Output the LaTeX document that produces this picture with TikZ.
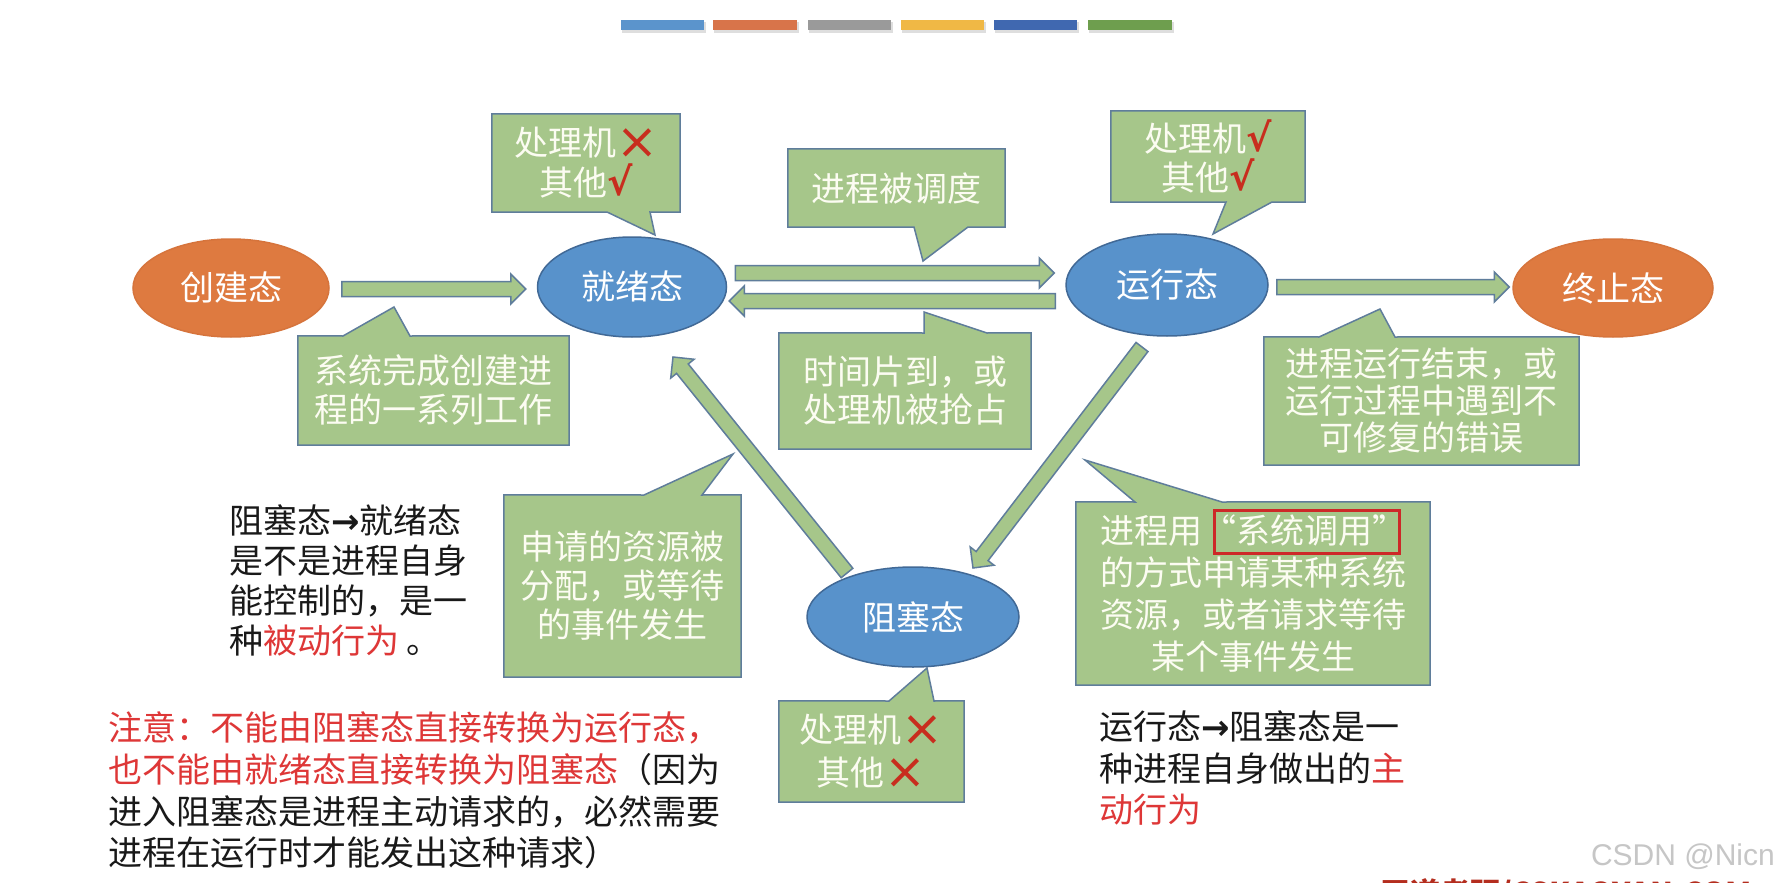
\documentclass[tikz,border=0pt]{standalone}
\usepackage{fontspec}
\newfontfamily\cjk{Noto Sans CJK SC}
\newfontfamily\djv{DejaVu Sans}
\newfontfamily\lbs{Liberation Sans}
\usetikzlibrary{calc,shapes.geometric}
\pgfdeclarelayer{paper}
\pgfdeclarelayer{under}
\pgfsetlayers{paper,under,main}
\definecolor{bluefill}{RGB}{88,146,203}
\definecolor{blueline}{RGB}{65,105,150}
\definecolor{orangefill}{RGB}{222,122,64}
\definecolor{orangeline}{RGB}{214,116,60}
\definecolor{greenfill}{RGB}{166,198,138}
\definecolor{greenline}{RGB}{95,125,155}
\definecolor{calltxt}{RGB}{252,252,242}
\definecolor{markred}{RGB}{200,45,30}
\definecolor{notered}{RGB}{222,55,55}
\definecolor{notetxt}{RGB}{25,25,25}
\definecolor{boxred}{RGB}{205,40,40}
\definecolor{barA}{RGB}{91,148,204}
\definecolor{barB}{RGB}{216,116,74}
\definecolor{barC}{RGB}{154,154,154}
\definecolor{barD}{RGB}{240,184,69}
\definecolor{barE}{RGB}{64,104,176}
\definecolor{barF}{RGB}{110,158,78}
\definecolor{wmgray}{RGB}{198,198,198}
\definecolor{wmred}{RGB}{180,45,30}
\newcommand{\xmk}{{\djv\fontsize{50}{40}\selectfont\color{markred}\raisebox{-3pt}{×}}}
\newcommand{\cmk}{{\djv\bfseries\fontsize{38}{40}\selectfont\color{markred}√}}
\newcommand{\rarr}{{\djv\bfseries →}}
\newcommand{\blockarrow}[2]{%
  \coordinate (ba-h) at ($(#2)!15pt!(#1)$);
  \filldraw[blockarrowstyle]
    ($(#1)!7.5pt!90:(#2)$) -- ($(ba-h)!7.5pt!90:(#2)$) -- ($(ba-h)!15pt!90:(#2)$) -- (#2)
    -- ($(ba-h)!15pt!-90:(#2)$) -- ($(ba-h)!7.5pt!-90:(#2)$) -- ($(#1)!7.5pt!-90:(#2)$) -- cycle;
}
\newcommand{\colorbar}[3]{%
  \fill[black!13] (#1+1,22) rectangle (#2+2,33);
  \fill[#3] (#1,20) rectangle (#2,30);
}
\begin{document}
\begin{tikzpicture}[x=1pt,y=-1pt,
  state/.style={ellipse, inner sep=0pt, line width=1.5pt, text=white,
    font=\cjk\fontsize{34}{40}\selectfont},
  bluestate/.style={state, fill=bluefill, draw=blueline},
  orangestate/.style={state, fill=orangefill, draw=orangeline},
  ctext/.style={rectangle, inner sep=0pt, align=center, text=calltxt,
    font=\cjk\fontsize{34}{#1}\selectfont},
  cshape/.style={fill=greenfill, draw=greenline, line width=1.5pt, line join=miter},
  blockarrowstyle/.style={fill=greenfill, draw=greenline, line width=1.5pt, line join=miter},
  note/.style={inner sep=0pt, align=left, anchor=west, text=notetxt,
    font=\cjk\fontsize{34}{#1}\selectfont},
]
\useasboundingbox (0,0) rectangle (1781,883);
\begin{pgfonlayer}{paper}
  \fill[white] (0,0) rectangle (1781,883);
\end{pgfonlayer}

% decorative colour bars
\colorbar{621}{704}{barA}
\colorbar{713}{797}{barB}
\colorbar{808}{891}{barC}
\colorbar{901}{984}{barD}
\colorbar{994}{1077}{barE}
\colorbar{1088}{1172}{barF}

% states
\node[orangestate, minimum width=196, minimum height=98] (create) at (231,288) {创建态};
\node[bluestate, minimum width=189, minimum height=100] (ready) at (632,287) {就绪态};
\node[bluestate, minimum width=202, minimum height=102] (run) at (1167,285) {运行态};
\node[orangestate, minimum width=200, minimum height=98] (exit) at (1613,288) {终止态};
\node[bluestate, minimum width=212, minimum height=100] (block) at (913,617) {阻塞态};

% block arrows
\coordinate (a1s) at ($(create.east)+(12,1)$);
\coordinate (a1e) at ($(ready.west)+(-11,2)$);
\coordinate (a2s) at ($(ready.east)+(8,-14)$);
\coordinate (a2e) at ($(run.west)+(-11,-12)$);
\coordinate (a3s) at ($(run.west)+(-10,16)$);
\coordinate (a3e) at ($(ready.east)+(2,14)$);
\coordinate (a4s) at ($(run.east)+(8,2)$);
\coordinate (a4e) at ($(exit.west)+(-3,-1)$);
\coordinate (a5s) at ($(block.center)+(-66,-44)$);
\coordinate (a5e) at ($(ready.center)+(41,70)$);
\coordinate (a6s) at ($(run.center)+(-25,62)$);
\coordinate (a6e) at ($(block.center)+(60,-49)$);
\blockarrow{a1s}{a1e}
\blockarrow{a2s}{a2e}
\blockarrow{a3s}{a3e}
\blockarrow{a4s}{a4e}
\blockarrow{a5s}{a5e}
\blockarrow{a6s}{a6e}

% callouts
\node[ctext=40, minimum width=188, minimum height=98] (cA) at (586,163) {处理机\xmk\\其他\cmk};
\node[ctext=40, minimum width=217, minimum height=78] (cB) at (896.5,188) {进程被调度};
\node[ctext=38, minimum width=252, minimum height=116] (cC) at (905,391) {时间片到，或\\处理机被抢占};
\node[ctext=39, minimum width=194, minimum height=91] (cD) at (1208,156.5) {处理机\cmk\\其他\cmk};
\node[ctext=39, minimum width=271, minimum height=109] (cE) at (433.5,390.5) {系统完成创建进\\程的一系列工作};
\node[ctext=37, minimum width=315, minimum height=128] (cF) at (1421.5,401) {进程运行结束，或\\运行过程中遇到不\\可修复的错误};
\node[ctext=39, minimum width=237, minimum height=182] (cG) at (622.5,586) {申请的资源被\\分配，或等待\\的事件发生};
\node[ctext=42, minimum width=354, minimum height=183] (cH) at (1253,593.5) {进程用“系统调用”\\的方式申请某种系统\\资源，或者请求等待\\某个事件发生};
\node[ctext=43, minimum width=185, minimum height=101] (cI) at (871.5,751.5) {处理机\xmk\\其他\xmk};

\begin{pgfonlayer}{under}
  \filldraw[cshape] (cA.north west) -- (cA.north east) -- (cA.south east) -- (650,212) -- (655,235) -- (607,212) -- (cA.south west) -- cycle;
  \filldraw[cshape] (cB.north west) -- (cB.north east) -- (cB.south east) -- (968,227) -- (923,261) -- (914,227) -- (cB.south west) -- cycle;
  \filldraw[cshape] (cC.north west) -- (924,333) -- (924,312) -- (987,333) -- (cC.north east) -- (cC.south east) -- (cC.south west) -- cycle;
  \filldraw[cshape] (cD.north west) -- (cD.north east) -- (cD.south east) -- (1272,202) -- (1213,234) -- (1226,202) -- (cD.south west) -- cycle;
  \filldraw[cshape] (cE.north west) -- (343,336) -- (394,307) -- (410,336) -- (cE.north east) -- (cE.south east) -- (cE.south west) -- cycle;
  \filldraw[cshape] (cF.north west) -- (1319,337) -- (1380,309) -- (1395,337) -- (cF.north east) -- (cF.south east) -- (cF.south west) -- cycle;
  \filldraw[cshape] (cG.north west) -- (644,495) -- (733,454) -- (702,495) -- (cG.north east) -- (cG.south east) -- (cG.south west) -- cycle;
  \filldraw[cshape] (cH.north west) -- (1135,502) -- (1085,460) -- (1222,502) -- (cH.north east) -- (cH.south east) -- (cH.south west) -- cycle;
  \filldraw[cshape] (cI.north west) -- (889,701) -- (927,668) -- (934,701) -- (cI.north east) -- (cI.south east) -- (cI.south west) -- cycle;
\end{pgfonlayer}

% red frame around 系统调用
\draw[boxred, line width=3pt] (1214,510) rectangle (1399,553);

% notes
\node[note=40] (noteL) at (229,581) {阻塞态\rarr 就绪态\\是不是进程自身\\能控制的，是一\\种\textcolor{notered}{被动行为} 。};
\node[note=41.7] (noteW) at (108,790.5) {\textcolor{notered}{注意：不能由阻塞态直接转换为运行态，}\\\textcolor{notered}{也不能由就绪态直接转换为阻塞态}（因为\\进入阻塞态是进程主动请求的，必然需要\\进程在运行时才能发出这种请求）};
\node[note=41.5] (noteR) at (1099,768.5) {运行态\rarr 阻塞态是一\\种进程自身做出的\textcolor{notered}{主}\\\textcolor{notered}{动行为}};

% watermarks
\node[inner sep=0pt, anchor=base east, text=wmgray, font=\lbs\fontsize{30}{36}\selectfont] (wm) at (1775,865) {CSDN @Nicn};
\node[inner sep=0pt, anchor=north west, text=wmred, font=\cjk\bfseries\fontsize{30}{36}\selectfont] (wm2) at (1380,878) {王道考研/CSKAOYAN.COM};
\end{tikzpicture}
\end{document}
